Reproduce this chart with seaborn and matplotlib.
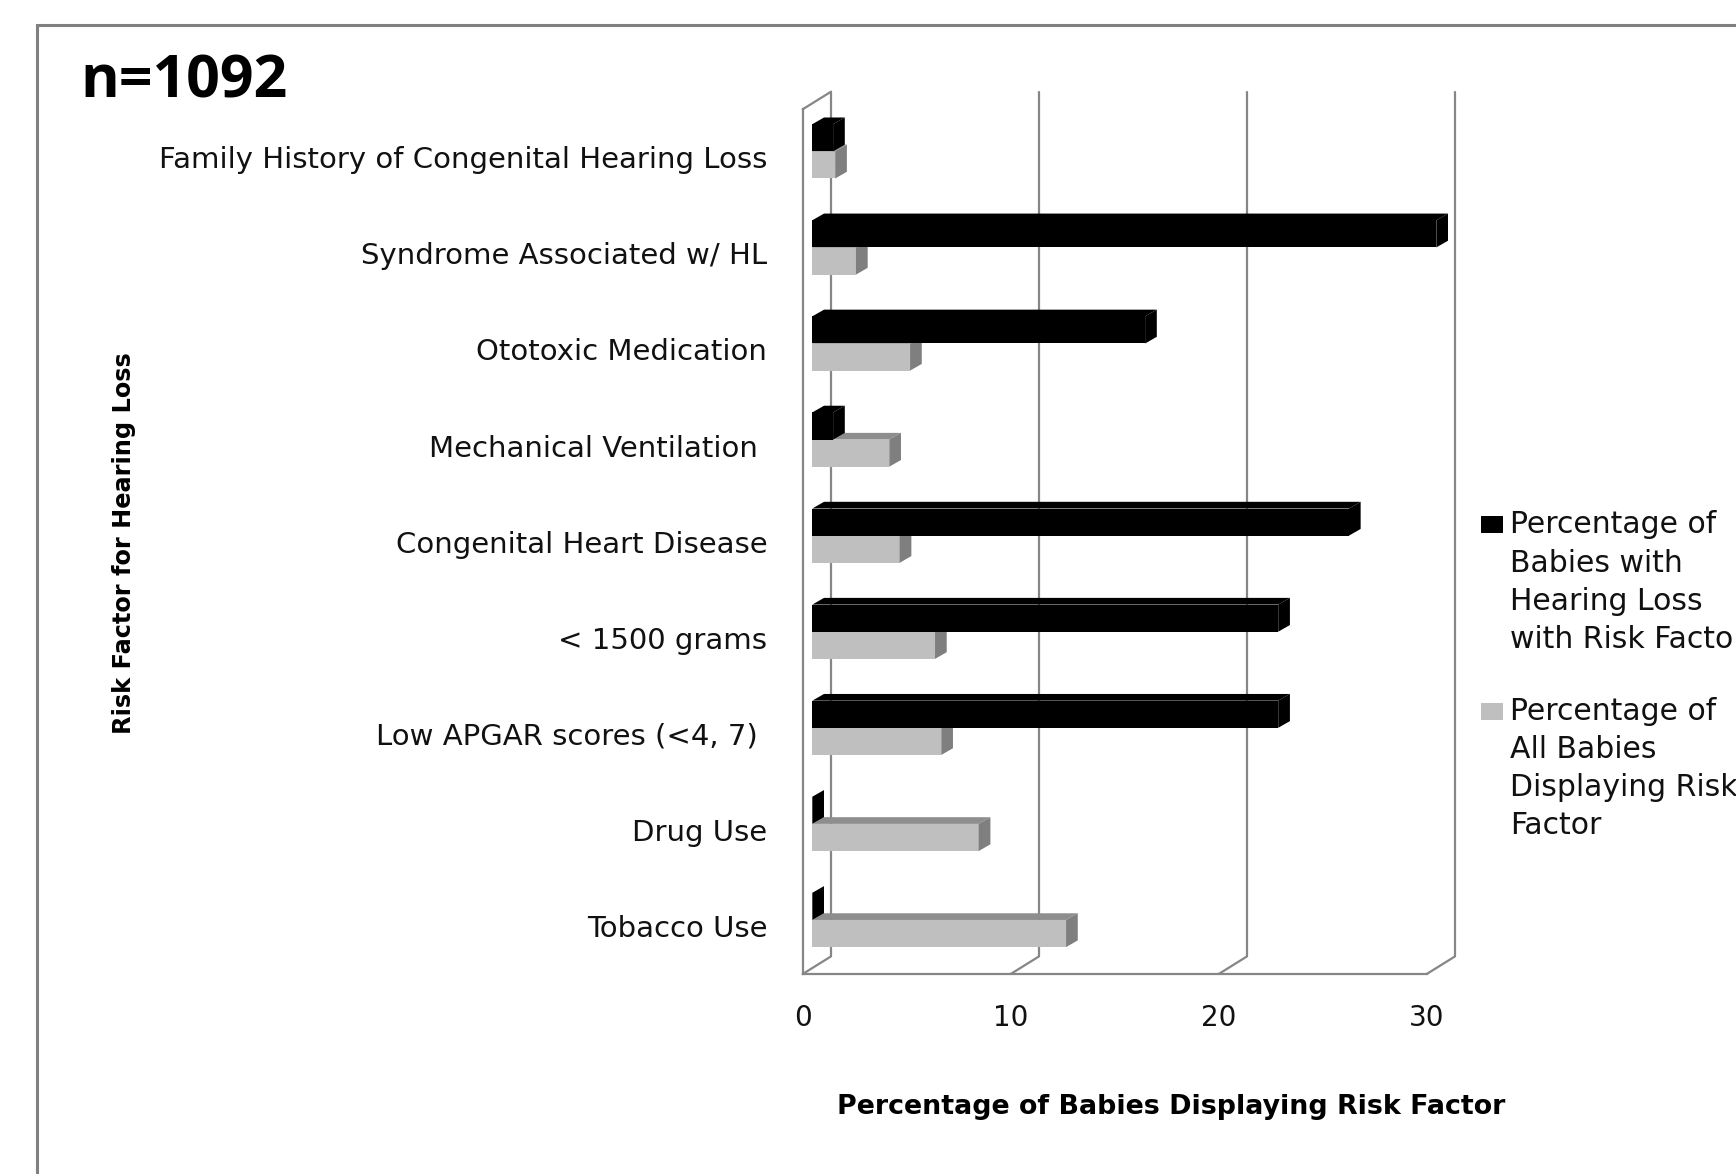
import textwrap

import numpy as np
import pandas as pd
import matplotlib
matplotlib.use("Agg")
import matplotlib.pyplot as plt
from matplotlib.lines import Line2D
from matplotlib.patches import Polygon, Rectangle
from matplotlib.transforms import IdentityTransform, ScaledTranslation
import seaborn as sns

# ---- data -----------------------------------------------------------------
risk_factors = [
    "Family History of Congenital Hearing Loss",
    "Syndrome Associated w/ HL",
    "Ototoxic Medication",
    "Mechanical Ventilation ",
    "Congenital Heart Disease",
    "< 1500 grams",
    "Low APGAR scores (<4, 7) ",
    "Drug Use",
    "Tobacco Use",
]
pct_with_hearing_loss = [1.0, 30.0, 16.0, 1.0, 25.8, 22.4, 22.4, 0.0, 0.0]
pct_all_babies = [1.1, 2.1, 4.7, 3.7, 4.2, 5.9, 6.2, 8.0, 12.2]
series_names = [
    "Percentage of Babies with Hearing Loss with Risk Factor",
    "Percentage of All Babies Displaying Risk Factor",
]
x_ticks = [0, 10, 20, 30]
sample_label = "n=1092"
x_title = "Percentage of Babies Displaying Risk Factor"
y_title = "Risk Factor for Hearing Loss"

# ---- styling --------------------------------------------------------------
series_colors = ["#000000", "#BFBFBF"]
light_top = "#8E8E8E"
light_side = "#7F7F7F"
frame_grey = "#868686"
ink = "#111111"

sns.set_style("white")
plt.rcParams["font.family"] = ["DejaVu Sans"]

W, H, DPI = 1736, 1174, 100
fig = plt.figure(figsize=(W / DPI, H / DPI), dpi=DPI)
fig.patch.set_facecolor("white")


def px_x(x):
    return x / W


def px_y(y):
    return 1 - y / H


# front plane of the pseudo-3D plot box
ax_left, ax_right, ax_top, ax_bottom = 802.7, 1426.7, 109.3, 974.0
ax = fig.add_axes([px_x(ax_left), px_y(ax_bottom),
                   (ax_right - ax_left) / W, (ax_bottom - ax_top) / H])

df = pd.DataFrame({
    "Risk Factor": risk_factors * 2,
    "Percentage": pct_with_hearing_loss + pct_all_babies,
    "Series": [series_names[0]] * len(risk_factors) + [series_names[1]] * len(risk_factors),
})

sns.barplot(
    data=df, x="Percentage", y="Risk Factor", hue="Series",
    hue_order=series_names, palette=series_colors, orient="h",
    width=0.565, saturation=1, linewidth=0, errorbar=None,
    legend=False, ax=ax,
)

ax.set_xlim(0, 30)
ax.set_ylim(len(risk_factors) - 0.5, -0.5)
ax.set_xticks(x_ticks)
ax.set_yticks(np.arange(-0.5, len(risk_factors), 1), minor=True)
ax.set_xlabel("")
ax.set_ylabel("")
ax.patch.set_alpha(0)

for side in ("top", "right"):
    ax.spines[side].set_visible(False)
for side in ("left", "bottom"):
    ax.spines[side].set_color(frame_grey)
    ax.spines[side].set_linewidth(1.6)

ax.tick_params(axis="x", which="major", direction="out", length=7.2, width=1.6,
               color=frame_grey, pad=14.5, labelsize=20, labelcolor=ink)
ax.tick_params(axis="y", which="major", length=0, pad=25.5, labelsize=21,
               labelcolor=ink)
ax.tick_params(axis="y", which="minor", direction="out", length=7.9, width=1.6,
               color=frame_grey)

# ---- depth: back wall grid, floor edges ------------------------------------
depth_back = (28.3, 17.6)
back_shift = ScaledTranslation(depth_back[0] / DPI, depth_back[1] / DPI, fig.dpi_scale_trans)
y_lo, y_hi = len(risk_factors) - 0.5, -0.5
for xv in x_ticks:
    ax.plot([xv, xv], [y_lo, y_hi], color=frame_grey, lw=1.6,
            transform=ax.transData + back_shift, clip_on=False, zorder=0.5)
    fx, fy = ax.transData.transform((xv, y_lo))
    ax.add_line(Line2D([fx, fx + depth_back[0]], [fy, fy + depth_back[1]],
                       transform=IdentityTransform(), color=frame_grey, lw=1.6,
                       clip_on=False, zorder=0.5))
tx, ty = ax.transData.transform((0, y_hi))
ax.add_line(Line2D([tx, tx + depth_back[0]], [ty, ty + depth_back[1]],
                   transform=IdentityTransform(), color=frame_grey, lw=1.6,
                   clip_on=False, zorder=0.5))

# ---- depth: bar faces -------------------------------------------------------
front_dx, front_dy = 9.6, 6.0
bar_dx, bar_dy = 11.7, 6.7
front_shift = ScaledTranslation(front_dx / DPI, front_dy / DPI, fig.dpi_scale_trans)
for bar in list(ax.patches):
    dark = bar.get_facecolor()[0] < 0.5
    z = 3 if dark else 2
    bar.set_transform(ax.transData + front_shift)
    bar.set_clip_on(False)
    bar.set_zorder(z)
    x0, y0, w, h = bar.get_x(), bar.get_y(), bar.get_width(), bar.get_height()
    (lx, ty), (rx, by) = ax.transData.transform([(x0, y0), (x0 + w, y0 + h)])
    lx, rx = lx + front_dx, rx + front_dx
    ty, by = ty + front_dy, by + front_dy
    top_col = "#000000" if dark else light_top
    side_col = "#000000" if dark else light_side
    top = Polygon([(lx, ty), (rx, ty), (rx + bar_dx, ty + bar_dy), (lx + bar_dx, ty + bar_dy)],
                  closed=True, facecolor=top_col, edgecolor="none",
                  transform=IdentityTransform(), clip_on=False, zorder=z)
    side = Polygon([(rx, by), (rx, ty), (rx + bar_dx, ty + bar_dy), (rx + bar_dx, by + bar_dy)],
                   closed=True, facecolor=side_col, edgecolor="none",
                   transform=IdentityTransform(), clip_on=False, zorder=z)
    ax.add_patch(top)
    ax.add_patch(side)

# ---- titles ------------------------------------------------------------------
fig.text(px_x(80), px_y(98), sample_label, fontsize=42.5, fontweight="bold",
         family="Open Sans", ha="left", va="baseline", color="#000000")
fig.text(px_x(1171), px_y(1107), x_title, fontsize=19.4, fontweight="bold",
         ha="center", va="center", color="#000000")
fig.text(px_x(124), px_y(543), y_title, fontsize=17.3, fontweight="bold",
         ha="center", va="center", rotation=90, color="#000000")

# ---- legend -------------------------------------------------------------------
line_step = 38.3
entry_step = 186.3
for i, (name, color) in enumerate(zip(series_names, series_colors)):
    base = 533.3 + i * entry_step
    fig.patches.append(Rectangle((px_x(1481), px_y(base)), 22 / W, 17 / H,
                                 transform=fig.transFigure, facecolor=color,
                                 edgecolor="none"))
    for j, line in enumerate(textwrap.wrap(name, 16)):
        fig.text(px_x(1510), px_y(base + j * line_step), line, fontsize=21.5,
                 ha="left", va="baseline", color=ink)

# ---- outer chart frame ----------------------------------------------------------
fig.patches.append(Rectangle((px_x(36.5), -0.2), 1.5, px_y(24.7) + 0.2,
                             transform=fig.transFigure, fill=False,
                             edgecolor="#808080", linewidth=2.2))

fig.savefig("out.png", dpi=DPI, facecolor="white")
